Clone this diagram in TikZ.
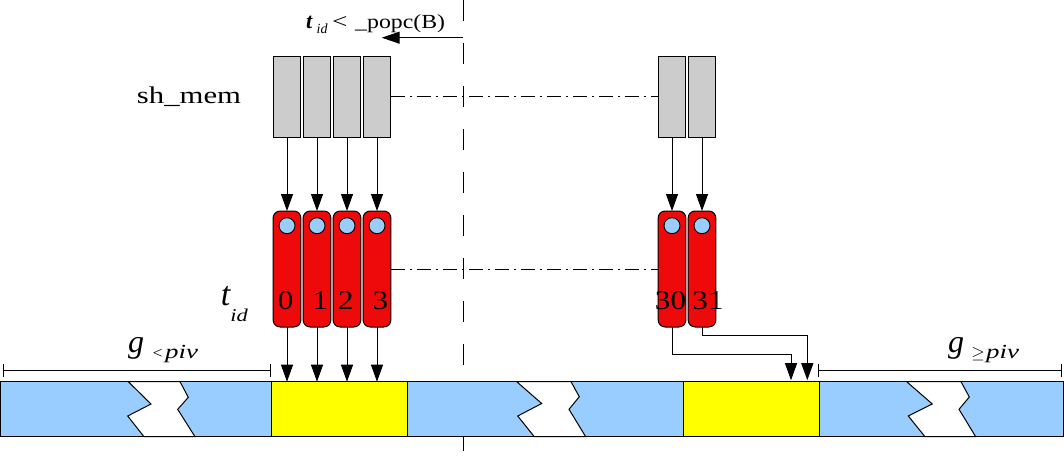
\documentclass[tikz,border=0pt]{standalone}
\usepackage{fontspec}
\usepackage{graphicx}
\setmainfont{Liberation Serif}
\usetikzlibrary{arrows.meta}
\definecolor{memgray}{HTML}{CCCCCC}
\definecolor{thred}{HTML}{EE0A0A}
\definecolor{lblue}{HTML}{99CCFF}
\definecolor{yel}{HTML}{FFFF00}
\begin{document}
\begin{tikzpicture}[x=1pt,y=-1pt,
 mem/.style={draw, fill=memgray, line width=1pt, minimum width=27.7pt, minimum height=81pt, inner sep=0pt, outer sep=0pt},
 thr/.style={draw, fill=thred, rounded corners=7pt, line width=1pt, minimum width=27.7pt, minimum height=116pt, inner sep=0pt, outer sep=0pt},
 bead/.style={draw, fill=lblue, circle, minimum size=16pt, inner sep=0pt, line width=0.9pt},
 arr/.style={line width=1pt, -{Triangle[length=17pt,width=12pt]}},
 dd/.style={line width=0.8pt, dash pattern=on 14pt off 5pt on 2pt off 5pt},
 seg/.style={draw, line width=1pt, minimum height=55pt, inner sep=0pt, outer sep=0pt},
 brk/.style={draw, fill=white, line width=1pt, line join=miter},
 digit/.style={anchor=base, font=\fontsize{27}{27}\selectfont, inner sep=0pt},
 lbl/.style={anchor=base, inner sep=0pt},
 dim/.style={line width=1pt, {Bar[width=13pt]}-{Bar[width=13pt]}},
]
\useasboundingbox (0,0) rectangle (1064,464);

% vertical dashed divider
\coordinate (vtop) at (463,0);
\coordinate (vbot) at (463,464);
\draw[line width=1pt, dash pattern=on 21pt off 22pt] (vtop) -- (vbot);

% shared memory cells
\foreach \n/\x in {0/287,1/317,2/347,3/377,30/672,31/702}{
  \node[mem] (m\n) at (\x,96.5) {};
  \node[thr] (r\n) at (\x,269) {};
  \node[bead] (b\n) at (\x,225.7) {};
  \draw[arr] (m\n.south) -- (r\n.north);
}
\draw[dd] (m3.east) -- (m30.west);
\draw[dd] (r3.east) -- (r30.west);

% digits
\node[digit] (d0) at (285.7,309) {\scalebox{1.15}[1]{0}};
\node[digit] (d1) at (320.3,309) {\scalebox{1.15}[1]{1}};
\node[digit] (d2) at (345.8,309) {\scalebox{1.15}[1]{2}};
\node[digit] (d3) at (380.5,309) {\scalebox{1.15}[1]{3}};
\node[digit] (d30) at (670.5,309) {\scalebox{1.15}[1]{30}};
\node[digit] (d31) at (708,309) {\scalebox{1.15}[1]{31}};

% global array bar
\node[seg, fill=lblue, minimum width=271.2pt] (s1) at (136.1,409.2) {};
\node[seg, fill=yel, minimum width=135.6pt] (y1) at (339.5,409.2) {};
\node[seg, fill=lblue, minimum width=276pt] (s2) at (545.3,409.2) {};
\node[seg, fill=yel, minimum width=136pt] (y2) at (751.3,409.2) {};
\node[seg, fill=lblue, minimum width=243.7pt] (s3) at (941.15,409.2) {};

% breaks
\draw[brk] (128.3,381.7) -- (151,404) -- (127.7,416) -- (144,436.7) -- (195,436.7) -- (177.7,409.3) -- (188.3,397.3) -- (180,381.7) -- cycle;
\draw[brk] (516.7,381.7) -- (541.7,403.5) -- (517.7,416) -- (534.3,436.7) -- (585.7,436.7) -- (569,409.3) -- (579.3,396.7) -- (571,381.7) -- cycle;
\draw[brk] (906.7,381.7) -- (932.3,404) -- (908.3,416) -- (925,436.7) -- (975.7,436.7) -- (959,409.3) -- (969.3,397) -- (961,381.7) -- cycle;

% arrows into bar
\foreach \n in {0,1,2,3}{
  \draw[arr] (r\n.south) -- (r\n.south |- y1.north);
}
\coordinate (t30) at (791,380.2);
\coordinate (t31) at (807.3,380.2);
\draw[arr] (r30.south) |- (791,354) -- (t30);
\draw[arr] (r31.south) |- (807.3,335.7) -- (t31);

% top arrow and condition
\coordinate (astart) at (463,37.7);
\coordinate (aend) at (381.7,37.7);
\draw[arr, -{Triangle[length=18pt,width=12pt]}] (astart) -- (aend);
\node[anchor=base west, inner sep=0pt, font=\fontsize{22}{22}\selectfont\bfseries\itshape] (ct) at (306,28) {t};
\node[anchor=base west, inner sep=0pt, font=\fontsize{14}{14}\selectfont\itshape] (cid) at (316.5,33) {id};
\node[anchor=base west, inner sep=0pt, font=\fontsize{21}{21}\selectfont] (clt) at (332,28) {\scalebox{1.3}[1]{<}};
\node[anchor=base west, inner sep=0pt, font=\fontsize{20}{20}\selectfont] (cpop) at (355,28) {\scalebox{1.19}[1]{\_popc(B)}};

% sh_mem label
\node[lbl, font=\fontsize{24}{24}\selectfont] (shmem) at (189,103) {\scalebox{1.28}[1]{sh\_mem}};

% t_id label
\node[lbl, font=\fontsize{34}{34}\selectfont\itshape] (tt) at (225.5,305) {t};
\node[lbl, font=\fontsize{18}{18}\selectfont\itshape] (tid) at (239,321) {\scalebox{1.25}[1]{id}};

% dimension lines
\coordinate (dl1) at (3,370.7);
\coordinate (dl2) at (270.5,370.7);
\coordinate (dr1) at (818.3,370.7);
\coordinate (dr2) at (1062.3,370.7);
\draw[dim] (dl1) -- (dl2);
\draw[dim] (dr1) -- (dr2);
\node[lbl, font=\fontsize{32}{32}\selectfont\itshape] (gl) at (136,352) {g};
\node[lbl, font=\fontsize{16}{16}\selectfont] (ltl) at (157.5,358) {\scalebox{1.1}[1]{<}};
\node[lbl, font=\fontsize{20}{20}\selectfont\itshape] (pivl) at (181.5,358) {\scalebox{1.35}[1]{piv}};
\node[lbl, font=\fontsize{32}{32}\selectfont\itshape] (gr) at (956,352) {g};
\node[lbl, font=\fontsize{16}{16}\selectfont] (ger) at (978,358) {$\geq$};
\node[lbl, font=\fontsize{20}{20}\selectfont\itshape] (pivr) at (1002.5,358) {\scalebox{1.35}[1]{piv}};
\end{tikzpicture}
\end{document}
